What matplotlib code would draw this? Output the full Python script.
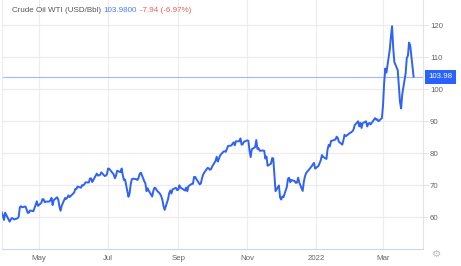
import pandas as pd
import matplotlib
matplotlib.use("Agg")
import matplotlib.pyplot as plt
from matplotlib.patches import Rectangle

plt.rcParams['font.family'] = ['Liberation Sans', 'DejaVu Sans']

# WTI daily values (USD/Bbl)
trade_dates = [
    "2021-03-29", "2021-03-30", "2021-03-31",
    "2021-04-01", "2021-04-05", "2021-04-06", "2021-04-07", "2021-04-08", "2021-04-09", "2021-04-12",
    "2021-04-13", "2021-04-14", "2021-04-15", "2021-04-16", "2021-04-19", "2021-04-20", "2021-04-21",
    "2021-04-22", "2021-04-23", "2021-04-26", "2021-04-27", "2021-04-28", "2021-04-29", "2021-04-30",
    "2021-05-03", "2021-05-04", "2021-05-05", "2021-05-06", "2021-05-07", "2021-05-10", "2021-05-11",
    "2021-05-12", "2021-05-13", "2021-05-14", "2021-05-17", "2021-05-18", "2021-05-19", "2021-05-20",
    "2021-05-21", "2021-05-24", "2021-05-25", "2021-05-26", "2021-05-27", "2021-05-28",
    "2021-06-01", "2021-06-02", "2021-06-03", "2021-06-04", "2021-06-07", "2021-06-08", "2021-06-09",
    "2021-06-10", "2021-06-11", "2021-06-14", "2021-06-15", "2021-06-16", "2021-06-17", "2021-06-18",
    "2021-06-21", "2021-06-22", "2021-06-23", "2021-06-24", "2021-06-25", "2021-06-28", "2021-06-29",
    "2021-06-30",
    "2021-07-01", "2021-07-02", "2021-07-06", "2021-07-07", "2021-07-08", "2021-07-09", "2021-07-12",
    "2021-07-13", "2021-07-14", "2021-07-15", "2021-07-16", "2021-07-19", "2021-07-20", "2021-07-21",
    "2021-07-22", "2021-07-23", "2021-07-26", "2021-07-27", "2021-07-28", "2021-07-29", "2021-07-30",
    "2021-08-02", "2021-08-03", "2021-08-04", "2021-08-05", "2021-08-06", "2021-08-09", "2021-08-10",
    "2021-08-11", "2021-08-12", "2021-08-13", "2021-08-16", "2021-08-17", "2021-08-18", "2021-08-19",
    "2021-08-20", "2021-08-23", "2021-08-24", "2021-08-25", "2021-08-26", "2021-08-27", "2021-08-30",
    "2021-08-31",
    "2021-09-01", "2021-09-02", "2021-09-03", "2021-09-07", "2021-09-08", "2021-09-09", "2021-09-10",
    "2021-09-13", "2021-09-14", "2021-09-15", "2021-09-16", "2021-09-17", "2021-09-20", "2021-09-21",
    "2021-09-22", "2021-09-23", "2021-09-24", "2021-09-27", "2021-09-28", "2021-09-29", "2021-09-30",
    "2021-10-01", "2021-10-04", "2021-10-05", "2021-10-06", "2021-10-07", "2021-10-08", "2021-10-11",
    "2021-10-12", "2021-10-13", "2021-10-14", "2021-10-15", "2021-10-18", "2021-10-19", "2021-10-20",
    "2021-10-21", "2021-10-22", "2021-10-25", "2021-10-26", "2021-10-27", "2021-10-28", "2021-10-29",
    "2021-11-01", "2021-11-02", "2021-11-03", "2021-11-04", "2021-11-05", "2021-11-08", "2021-11-09",
    "2021-11-10", "2021-11-11", "2021-11-12", "2021-11-15", "2021-11-16", "2021-11-17", "2021-11-18",
    "2021-11-19", "2021-11-22", "2021-11-23", "2021-11-24", "2021-11-26", "2021-11-29", "2021-11-30",
    "2021-12-01", "2021-12-02", "2021-12-03", "2021-12-06", "2021-12-07", "2021-12-08", "2021-12-09",
    "2021-12-10", "2021-12-13", "2021-12-14", "2021-12-15", "2021-12-16", "2021-12-17", "2021-12-20",
    "2021-12-21", "2021-12-22", "2021-12-23", "2021-12-27", "2021-12-28", "2021-12-29", "2021-12-30",
    "2021-12-31",
    "2022-01-03", "2022-01-04", "2022-01-05", "2022-01-06", "2022-01-07", "2022-01-10", "2022-01-11",
    "2022-01-12", "2022-01-13", "2022-01-14", "2022-01-18", "2022-01-19", "2022-01-20", "2022-01-21",
    "2022-01-24", "2022-01-25", "2022-01-26", "2022-01-27", "2022-01-28", "2022-01-31",
    "2022-02-01", "2022-02-02", "2022-02-03", "2022-02-04", "2022-02-07", "2022-02-08", "2022-02-09",
    "2022-02-10", "2022-02-11", "2022-02-14", "2022-02-15", "2022-02-16", "2022-02-17", "2022-02-18",
    "2022-02-22", "2022-02-23", "2022-02-24", "2022-02-25", "2022-02-28",
    "2022-03-01", "2022-03-02", "2022-03-03", "2022-03-04", "2022-03-07", "2022-03-08", "2022-03-09",
    "2022-03-10", "2022-03-11", "2022-03-14", "2022-03-15", "2022-03-16", "2022-03-17", "2022-03-18",
    "2022-03-21", "2022-03-22", "2022-03-23", "2022-03-24", "2022-03-25", "2022-03-28",
]
wti_close = [
    61.56, 60.55, 59.16,
    61.45, 58.65, 59.33, 59.77, 59.60, 59.32, 59.70,
    60.18, 63.15, 63.46, 63.13, 63.38, 62.44, 61.35,
    61.43, 62.14, 61.91, 62.94, 63.86, 65.01, 63.58,
    64.49, 65.69, 65.63, 64.71, 64.90, 64.92, 65.28,
    66.08, 63.82, 65.37, 66.27, 65.49, 63.36, 62.05,
    63.58, 66.05, 65.76, 66.21, 66.85, 66.32,
    67.72, 68.83, 68.81, 69.62, 69.23, 70.05, 69.96,
    70.29, 70.91, 70.88, 72.12, 72.15, 71.04, 71.64,
    73.66, 73.06, 73.08, 73.30, 74.05, 72.91, 72.98,
    73.47,
    75.23, 75.16, 73.37, 72.20, 72.94, 74.56, 74.10,
    75.25, 73.13, 71.65, 71.81, 66.42, 67.42, 70.30,
    71.91, 72.07, 71.91, 71.65, 72.39, 73.62, 73.95,
    71.26, 70.56, 68.15, 69.09, 68.28, 66.48, 68.29,
    69.25, 69.09, 68.44, 67.29, 66.59, 65.46, 63.50,
    62.32, 65.64, 67.54, 68.36, 67.42, 68.74, 69.21,
    68.50,
    68.59, 69.99, 69.29, 68.35, 69.30, 68.14, 69.72,
    70.45, 70.46, 72.61, 72.61, 71.97, 70.29, 70.56,
    72.23, 73.30, 73.98, 75.45, 75.29, 74.83, 75.03,
    75.88, 77.62, 78.93, 77.43, 78.30, 79.35, 80.52,
    80.64, 80.44, 81.31, 82.28, 82.44, 83.00, 83.42,
    82.50, 83.76, 83.76, 84.65, 82.66, 82.81, 83.57,
    84.05, 83.91, 80.86, 78.81, 81.27, 81.93, 84.15,
    81.34, 81.59, 80.79, 80.88, 80.76, 78.36, 79.01,
    76.10, 76.75, 78.50, 78.39, 68.15, 69.95, 66.18,
    65.57, 66.50, 66.26, 69.49, 72.05, 72.36, 70.94,
    71.67, 71.29, 70.73, 70.87, 72.38, 70.86, 68.23,
    71.12, 72.76, 73.79, 75.57, 75.98, 76.56, 76.99,
    75.21,
    76.08, 76.99, 77.85, 79.46, 78.90, 78.23, 81.22,
    82.64, 82.12, 83.82, 84.30, 85.20, 84.80, 83.60,
    82.70, 84.10, 85.80, 85.30, 85.60, 86.40,
    86.60, 86.90, 87.50, 88.80, 90.00, 88.40, 89.50,
    87.90, 89.40, 90.00, 88.40, 89.20, 89.50, 89.00,
    91.00, 90.50, 90.60, 90.00, 91.00,
    95.00, 102.00, 106.50, 105.20, 112.50, 116.50, 119.70,
    113.00, 108.50, 106.00, 100.80, 96.00, 94.00, 98.50,
    105.00, 109.80, 110.50, 114.60, 113.80, 103.98,
]

month_ticks = ["2021-05-01", "2021-07-01", "2021-09-01", "2021-11-01", "2022-01-01", "2022-03-01"]
month_labels = ["May", "Jul", "Sep", "Nov", "2022", "Mar"]
price_ticks = [60, 70, 80, 90, 100, 110, 120]

last_price = 103.98
header_name = "Crude Oil WTI (USD/Bbl)"
header_value = "103.9800"
header_change = "-7.94 (-6.97%)"

W, H = 461, 266
fig = plt.figure(figsize=(W / 100, H / 100), dpi=100)
fig.patch.set_facecolor("white")

# axes box measured in pixels: left 2, right 423, bottom at y=249, top at y=0
ax = fig.add_axes([2 / W, (H - 249.3) / H, 421 / W, 249.3 / H])

x = pd.to_datetime(trade_dates)
ax.plot(x, wti_close, color="#2f62f5", lw=1.4, solid_joinstyle="round", zorder=3)
ax.axhline(last_price, color="#9fb7ff", lw=0.8, zorder=2)

ax.set_xlim(pd.Timestamp("2021-03-29 06:00"), pd.Timestamp("2022-04-05 08:00"))
ax.set_ylim(50, 127.9)

ax.set_xticks(pd.to_datetime(month_ticks))
ax.set_xticklabels(month_labels)
ax.set_yticks(price_ticks)
ax.yaxis.tick_right()

ax.grid(True, color="#ececec", lw=0.8, zorder=0)
ax.tick_params(axis="x", length=0, pad=4, labelsize=5.7, labelcolor="#666666")
ax.tick_params(axis="y", length=3.5, width=0.7, color="#e3e3e3", pad=1.5,
               labelsize=5.7, labelcolor="#666666")

ax.spines["top"].set_visible(False)
ax.spines["left"].set_color("#ececec")
ax.spines["right"].set_color("#e3e3e3")
ax.spines["bottom"].set_color("#ccd6eb")
for side in ["left", "right", "bottom"]:
    ax.spines[side].set_linewidth(0.8)

# header line
def px(xp, yp):
    return xp / W, 1 - yp / H

fig.text(*px(12, 11), header_name, color="#555555", fontsize=5.8, va="center", ha="left")
fig.text(*px(103, 11), header_value, color="#4d79ff", fontsize=5.8, va="center", ha="left")
fig.text(*px(140, 11), header_change, color="#f05a5a", fontsize=5.8, va="center", ha="left")

# last price label on the right axis
yl = ax.transData.transform((0, last_price))[1]
box_h = 14
fig.patches.append(Rectangle((425 / W, (yl - box_h / 2) / H), 31 / W, box_h / H,
                             transform=fig.transFigure, facecolor="#2962ff",
                             edgecolor="none", zorder=5))
fig.text(440.5 / W, yl / H, f"{last_price:.2f}", color="white", fontsize=5.7,
         ha="center", va="center", zorder=6)

# settings gear
fig.text(*px(437, 254), "\u2699", color="#bbbbbb", fontsize=7.5, ha="center", va="center")

fig.savefig("out.png", dpi=100, facecolor="white")
